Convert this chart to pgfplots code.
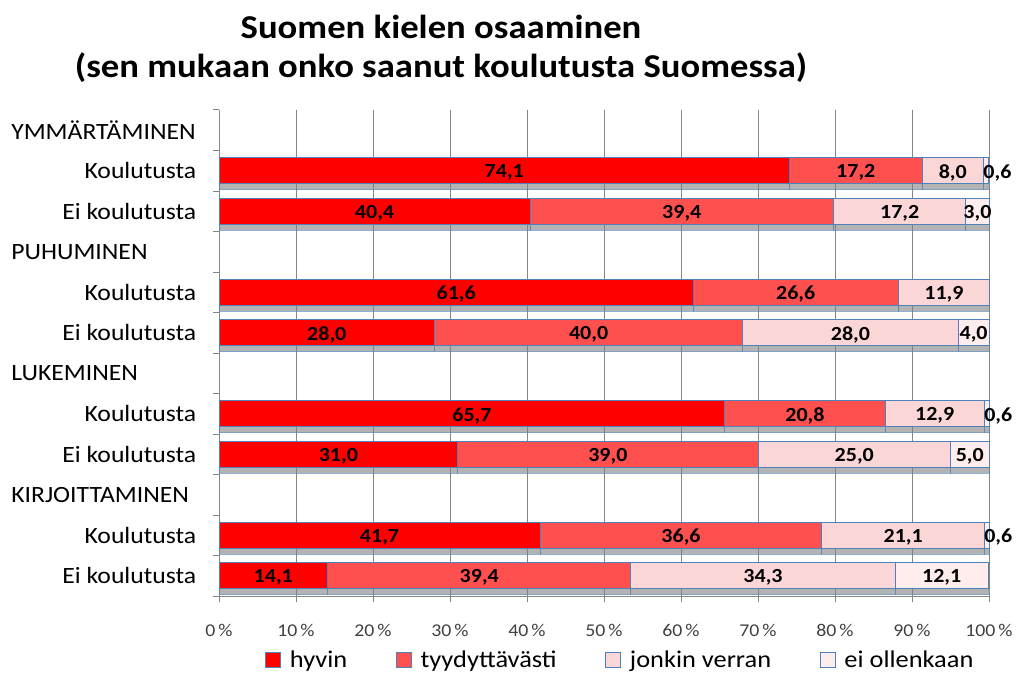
\documentclass[border=0pt]{standalone}
\usepackage{fontspec}
\setmainfont{Carlito}[FakeStretch=1.1]
\usepackage{pgfplots}
\pgfplotsset{compat=1.18}
\usepackage{pgfplotstable}
\usetikzlibrary{shadows}

\definecolor{hyvin}{RGB}{255,0,0}
\definecolor{tyyd}{RGB}{255,80,80}
\definecolor{jonkin}{RGB}{250,214,214}
\definecolor{eiol}{RGB}{255,237,237}
\definecolor{edge}{RGB}{79,129,189}
\definecolor{gridc}{RGB}{134,134,134}

% rivit: 1,2 ymmartaminen / 4,5 puhuminen / 7,8 lukeminen / 10,11 kirjoittaminen
\pgfplotstableread{
row v1   v2   v3   v4
1   74.1 17.2 8.0  0.6
2   40.4 39.4 17.2 3.0
4   61.6 26.6 11.9 0
5   28.0 40.0 28.0 4.0
7   65.7 20.8 12.9 0.6
8   31.0 39.0 25.0 5.0
10  41.7 36.6 21.1 0.6
11  14.1 39.4 34.3 12.1
}\osaaminen

\pgfplotsset{
  /pgf/number format/assume math mode=true,
  frame/.style={
    at={(164.25pt,61pt)}, anchor=south west,
    scale only axis, width=577.5pt, height=364.5pt,
    xmin=0, xmax=100, ymin=-0.5, ymax=11.5, y dir=reverse,
    clip=false,
  },
  seg/.style={
    fill=#1, draw=edge, line width=0.75pt, forget plot,
    drop shadow={shadow xshift=0pt, shadow yshift=-4.5pt, opacity=0.6},
  },
  lbl/.style={
    only marks, mark=none,
    visualization depends on={\thisrow{#1} \as \segw},
    point meta=\thisrow{#1},
    nodes near coords={\pgfmathtruncatemacro\shw{\segw>0}\ifnum\shw=1 \pgfmathprintnumber[fixed,zerofill,precision=1,use comma]{\segw}\fi},
    nodes near coords align={center},
    every node near coord/.append style={anchor=center, text=black, inner sep=0pt,
      yshift=-1.5pt, font=\bfseries\fontsize{15}{18}\selectfont},
  },
}

\begin{document}
\begin{tikzpicture}
\useasboundingbox (0,0) rectangle (762pt,508pt);
\node[font=\bfseries\fontsize{25}{30}\selectfont] at (330.75pt,487.75pt) {Suomen kielen osaaminen};
\node[font=\bfseries\fontsize{25}{30}\selectfont] at (330.75pt,457pt) {(sen mukaan onko saanut koulutusta Suomessa)};
\begin{axis}[
  frame,
  xbar stacked, bar width=0.64,
  axis x line*=bottom, axis y line*=left,
  axis line style={gridc, line width=0.75pt},
  xmajorgrids, grid style={gridc, line width=0.75pt},
  tick style={gridc, line width=0.75pt},
  tick align=outside, major tick length=4.5pt,
  xtick={0,10,...,100},
  xticklabels={0\,\%,10\,\%,20\,\%,30\,\%,40\,\%,50\,\%,60\,\%,70\,\%,80\,\%,90\,\%,100\,\%},
  xticklabel style={font=\fontsize{13.5}{16}\selectfont, text=black!75, yshift=-13pt},
  ytick={-0.5,0.5,1.5,2.5,3.5,4.5,5.5,6.5,7.5,8.5,9.5,10.5,11.5},
  yticklabels={\makebox[138.75pt][l]{YMMÄRTÄMINEN},Koulutusta\hspace{3pt},Ei koulutusta,
    \makebox[138.75pt][l]{PUHUMINEN},Koulutusta\hspace{3pt},Ei koulutusta,
    \makebox[138.75pt][l]{LUKEMINEN},Koulutusta\hspace{3pt},Ei koulutusta,
    \makebox[138.75pt][l]{KIRJOITTAMINEN},Koulutusta\hspace{3pt},Ei koulutusta,{}},
  yticklabel style={font=\fontsize{17.5}{20}\selectfont, text=black, yshift=-15.19pt, xshift=-9pt},
  legend style={at={(0.0597,-0.1317)}, anchor=west, draw=none, inner sep=0pt,
    legend columns=4, font=\fontsize{18}{21}\selectfont,
    nodes={inner sep=2.5pt}, cells={anchor=west},
    /tikz/every odd column/.append style={column sep=4pt},
    /tikz/every even column/.append style={column sep=34pt}},
  legend image code/.code={\draw[#1] (0pt,-5.6pt) rectangle (11.25pt,5.6pt);},
]
\addlegendimage{fill=hyvin, draw=edge, line width=0.75pt}
\addlegendentry{hyvin}
\addlegendimage{fill=tyyd, draw=edge, line width=0.75pt}
\addlegendentry{tyydyttävästi}
\addlegendimage{fill=jonkin, draw=edge, line width=0.75pt}
\addlegendentry{jonkin verran}
\addlegendimage{fill=eiol, draw=edge, line width=0.75pt}
\addlegendentry{ei ollenkaan}

\addplot[seg=hyvin] table[x=v1, y=row] {\osaaminen};
\addplot[seg=tyyd] table[x=v2, y=row] {\osaaminen};
\addplot[seg=jonkin] table[x=v3, y=row] {\osaaminen};
\addplot[seg=eiol] table[x=v4, y=row] {\osaaminen};
\end{axis}

% arvot palkkien keskelle
\begin{axis}[frame, hide axis]
\addplot[lbl=v1] table[x expr=\thisrow{v1}/2, y=row] {\osaaminen};
\addplot[lbl=v2] table[x expr=\thisrow{v1}+\thisrow{v2}/2, y=row] {\osaaminen};
\addplot[lbl=v3] table[x expr=\thisrow{v1}+\thisrow{v2}+\thisrow{v3}/2, y=row] {\osaaminen};
\addplot[lbl=v4] table[x expr=\thisrow{v1}+\thisrow{v2}+\thisrow{v3}+\thisrow{v4}/2+(\thisrow{v4}<1)*1.5, y=row] {\osaaminen};
\end{axis}
\end{tikzpicture}
\end{document}
